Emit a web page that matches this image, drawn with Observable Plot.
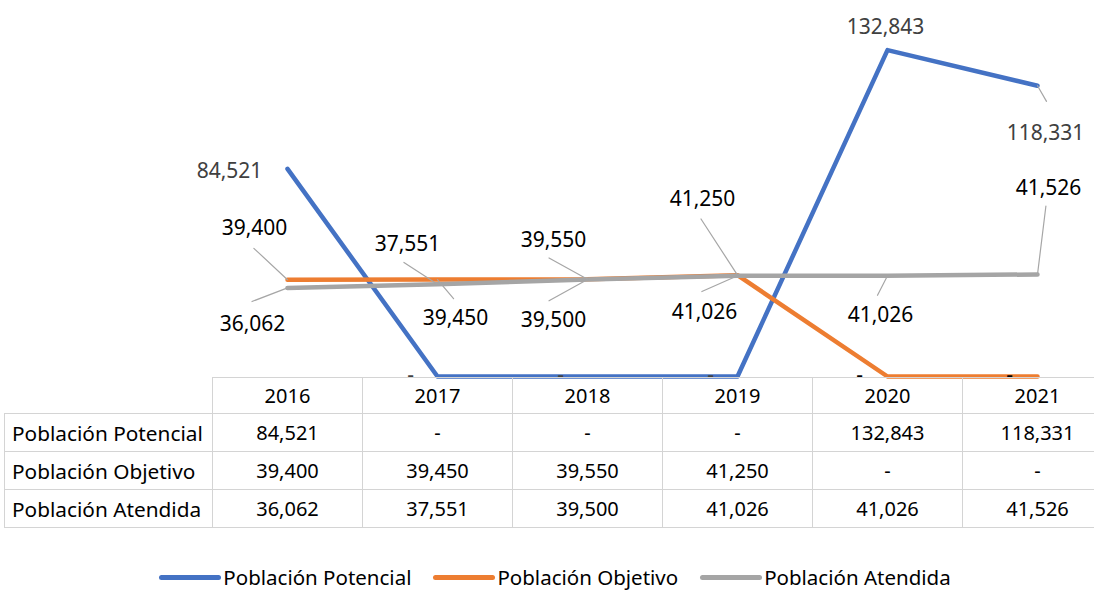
<!DOCTYPE html>
<html>
<head>
<meta charset="utf-8">
<script src="https://cdn.jsdelivr.net/npm/d3@7"></script>
<script src="https://cdn.jsdelivr.net/npm/@observablehq/plot@0.6"></script>
<style>
  html, body { margin: 0; padding: 0; background: #fff; overflow: hidden; width: 1094px; height: 591px; }
  body { font-family: "Noto Sans", "Open Sans", sans-serif; position: relative; }
  #chart svg { overflow: visible; display: block; }
  #tbl { position: absolute; left: 4px; top: 377px; width: 1108px; border-collapse: collapse; font-size: 20px; color: #000; table-layout: fixed; }
  #tbl td { border: 1px solid #d4d4d4; text-align: center; padding: 0; height: 37px; white-space: nowrap; line-height: 24px; }
  #tbl tr.head td { height: 35px; padding-top: 0; }
  #tbl td.lab { text-align: left; padding-left: 7px; font-size: 20.8px; }
  #legend { position: absolute; top: 566px; left: 0; width: 1110px; display: flex; justify-content: center; gap: 22px; font-size: 20.5px; line-height: 22px; color: #000; }
  #legend .item { display: flex; align-items: center; }
  #legend .sw { width: 62px; height: 5px; border-radius: 3px; margin-right: 2px; }
</style>
</head>
<body>
<div id="chart"></div>
<div id="tablewrap"></div>
<div id="legend"></div>
<script>
// ---- data ----
const years = [2016, 2017, 2018, 2019, 2020, 2021];
const potencial = [84521, 0, 0, 0, 132843, 118331];
const objetivo = [39400, 39450, 39550, 41250, 0, 0];
const atendida = [36062, 37551, 39500, 41026, 41026, 41526];
const seriesNames = ["Población Potencial", "Población Objetivo", "Población Atendida"];
const seriesColors = ["#4472C4", "#ED7D31", "#A5A5A5"];
const seriesValues = [potencial, objetivo, atendida];

// ---- label layout (offsets from each point, leader length/angle) ----
const labelLayout = [
  [ {dx:-58,dy:2}, {dx:-27,dy:-1}, {dx:-27,dy:-1}, {dx:-27,dy:-1}, {dx:-2,dy:-23}, {dx:8,dy:48,len:18,rot:150} ],
  [ {dx:-33,dy:-51,len:46,rot:313}, {dx:18,dy:39,len:25,rot:140}, {dx:-34,dy:-39,len:44,rot:299}, {dx:-35,dy:-76,len:67,rot:327}, {dx:-28,dy:-1}, {dx:-28,dy:-1} ],
  [ {dx:-35,dy:36,len:38,rot:249}, {dx:-30,dy:-40,len:40,rot:303}, {dx:-34,dy:41,len:44,rot:241}, {dx:-33,dy:37,len:39,rot:246}, {dx:-7,dy:40,len:22,rot:207}, {dx:11,dy:-86,len:69,rot:7} ]
];
const labelColors = ["#404040", "#000000", "#000000"];

const fmt = v => v === 0 ? "-" : d3.format(",")(v);

const rows = [];
seriesNames.forEach((s, i) => years.forEach((y, j) => {
  rows.push({series: s, year: String(y), value: seriesValues[i][j], si: i, ...labelLayout[i][j]});
}));

const marks = [
  Plot.line(rows, {x: "year", y: "value", z: "series", stroke: "series", strokeWidth: 4.5, strokeLinejoin: "round", strokeLinecap: "round"})
];
const leaderShape = { draw(ctx, l) { ctx.moveTo(0, 0); ctx.lineTo(0, -l); } };
for (const r of rows) {
  if (r.len) {
    marks.push(Plot.vector([r], {x: "year", y: "value", length: r.len, rotate: r.rot, anchor: "start", shape: leaderShape, stroke: "#A6A6A6", strokeWidth: 1.2}));
  }
}
for (const r of rows) {
  marks.push(Plot.text([r], {x: "year", y: "value", text: d => fmt(d.value), dx: r.dx, dy: r.dy, fill: labelColors[r.si], fontSize: 21, textAnchor: "middle"}));
}

const chart = Plot.plot({
  width: 1094,
  height: 380,
  marginLeft: 212,
  marginRight: -18,
  marginTop: 32,
  marginBottom: 4,
  x: {type: "point", domain: years.map(String), padding: 0.5, axis: null},
  y: {domain: [0, 140000], axis: null},
  color: {domain: seriesNames, range: seriesColors},
  style: {fontFamily: "'Noto Sans', 'Open Sans', sans-serif", background: "transparent", overflow: "visible"},
  marks
});
document.getElementById("chart").appendChild(chart);

// ---- data table ----
const table = document.createElement("table");
table.id = "tbl";
const colgroup = document.createElement("colgroup");
[208, ...years.map(() => 150)].forEach(w => { const c = document.createElement("col"); c.style.width = w + "px"; colgroup.appendChild(c); });
table.appendChild(colgroup);
const head = document.createElement("tr");
head.className = "head";
const blank = document.createElement("td"); blank.style.border = "none"; head.appendChild(blank);
years.forEach(y => { const td = document.createElement("td"); td.textContent = y; head.appendChild(td); });
table.appendChild(head);
seriesNames.forEach((s, i) => {
  const tr = document.createElement("tr");
  const lab = document.createElement("td"); lab.className = "lab"; lab.textContent = s; tr.appendChild(lab);
  seriesValues[i].forEach(v => { const td = document.createElement("td"); td.textContent = fmt(v); tr.appendChild(td); });
  table.appendChild(tr);
});
document.getElementById("tablewrap").appendChild(table);

// ---- legend ----
const legend = document.getElementById("legend");
seriesNames.forEach((s, i) => {
  const it = document.createElement("div"); it.className = "item";
  const sw = document.createElement("div"); sw.className = "sw"; sw.style.background = seriesColors[i];
  const tx = document.createElement("span"); tx.textContent = s;
  it.appendChild(sw); it.appendChild(tx); legend.appendChild(it);
});
</script>
</body>
</html>
